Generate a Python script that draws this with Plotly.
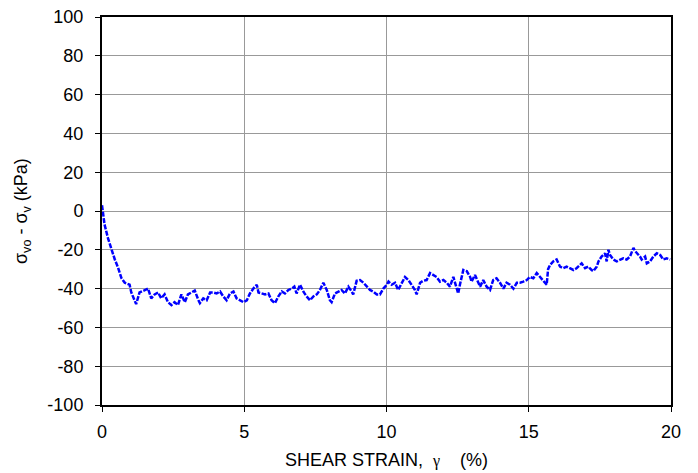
import plotly.graph_objects as go

strain = [0.00, 0.09, 0.21, 0.33, 0.45, 0.56, 0.68, 0.80, 0.97, 1.03, 1.15, 1.20, 1.32, 1.50, 1.62, 1.73,
          1.85, 1.97, 2.08, 2.20, 2.32, 2.44, 2.55, 2.67, 2.79, 2.91, 3.02, 3.14, 3.26, 3.39, 3.44, 3.56,
          3.68, 3.80, 3.91, 4.03, 4.15, 4.26, 4.38, 4.50, 4.62, 4.73, 4.85, 4.97, 5.09, 5.20, 5.32, 5.44,
          5.50, 5.61, 5.73, 5.85, 5.96, 6.08, 6.20, 6.32, 6.43, 6.55, 6.67, 6.76, 6.84, 6.96, 7.08, 7.19,
          7.31, 7.43, 7.55, 7.66, 7.78, 7.90, 8.01, 8.07, 8.19, 8.31, 8.42, 8.54, 8.66, 8.78, 8.83, 8.95,
          9.07, 9.19, 9.30, 9.42, 9.54, 9.66, 9.77, 9.89, 10.01, 10.07, 10.18, 10.30, 10.41, 10.53, 10.65,
          10.77, 10.89, 11.00, 11.06, 11.18, 11.29, 11.41, 11.53, 11.65, 11.76, 11.88, 12.00, 12.12, 12.23,
          12.35, 12.47, 12.52, 12.58, 12.70, 12.82, 12.94, 12.99, 13.11, 13.23, 13.29, 13.40, 13.52, 13.64,
          13.75, 13.87, 13.99, 14.11, 14.22, 14.34, 14.46, 14.58, 14.69, 14.81, 14.93, 15.04, 15.16, 15.28,
          15.40, 15.51, 15.63, 15.68, 15.75, 15.86, 15.98, 16.10, 16.21, 16.33, 16.45, 16.57, 16.68, 16.77,
          16.86, 16.98, 17.09, 17.21, 17.27, 17.39, 17.45, 17.56, 17.68, 17.74, 17.80, 17.85, 17.97, 18.09,
          18.21, 18.32, 18.44, 18.56, 18.68, 18.73, 18.91, 18.97, 19.09, 19.15, 19.26, 19.38, 19.50, 19.62,
          19.73, 19.85, 19.97]

stress_change = [3, -7, -14, -20, -25, -29, -34.5, -37, -38, -42, -47, -48, -42, -41, -40, -45,
                 -43, -42, -45, -43, -47, -48.5, -47, -48.5, -43, -47, -43, -42, -41, -46, -47.5, -45,
                 -46, -42, -42, -42.5, -41.5, -44, -46, -42.5, -41.5, -45, -46, -47, -46, -42.5, -40, -38,
                 -42, -42.5, -43, -42.5, -46, -47.5, -44, -41.5, -42.5, -40.7, -40, -39, -42.5, -38, -41.6, -44,
                 -46, -44, -43, -40.7, -37, -40.7, -46, -47, -42.5, -41.6, -40.7, -42.5, -39, -41.6, -43, -36,
                 -35.6, -37, -39, -40.7, -41.6, -43, -43, -40, -38, -36.4, -38, -37, -40.7, -37, -34,
                 -35.6, -38, -40.7, -43, -37, -36, -35.6, -32, -33, -34, -36.4, -35.6, -37, -39,
                 -34, -40.7, -42.5, -38, -30.4, -31, -34, -36.4, -33, -37, -39, -35.6, -39, -40.7,
                 -35.6, -34.7, -37, -40, -37, -38, -40, -37, -37, -36.4, -35.6, -34, -34.7, -32,
                 -34, -35.6, -38, -30, -27.8, -26, -25, -28.7, -29.5, -28.7, -29.5, -30.4, -29.5, -28,
                 -27, -29.5, -28.7, -30.4, -31, -28.7, -26, -23.5, -21.8, -26, -20, -22.5, -25, -26,
                 -25, -24.4, -25, -23.5, -19, -20.5, -23.5, -25, -23.5, -27, -26, -23.5, -21.8, -22.7,
                 -25, -24.4, -25]

x_ticks = [0, 5, 10, 15, 20]
y_ticks = [-100, -80, -60, -40, -20, 0, 20, 40, 60, 80, 100]
y_tick_labels = ["-100", "-80", "-60", "-40", "-20", "0", "20", "40", "60", "80", "100"]

fig = go.Figure()
fig.add_trace(go.Scatter(
    x=strain, y=stress_change, mode="lines",
    line=dict(color="#0000ff", width=2.5, dash="5px,1.5px"),
    showlegend=False, hoverinfo="skip",
))

font_family = "Liberation Sans, Arial, sans-serif"

# the page body adds an 8px offset; margins compensate for it
fig.update_layout(
    width=698, height=473,
    margin=dict(l=94, r=35, t=9, b=76),
    paper_bgcolor="white", plot_bgcolor="white",
    font=dict(family=font_family, size=18, color="black"),
)

fig.update_xaxes(
    range=[0, 20], tickvals=x_ticks,
    showgrid=True, gridcolor="#999999", gridwidth=1,
    showline=True, linecolor="black", linewidth=2, mirror=True,
    ticks="outside", ticklen=5, tickcolor="black",
    zeroline=False, automargin=False,
    tickfont=dict(size=18), ticklabelstandoff=4, ticklabeloverflow="allow",
)
fig.update_yaxes(
    range=[-100, 100], tickvals=y_ticks, ticktext=y_tick_labels,
    showgrid=True, gridcolor="#999999", gridwidth=1,
    showline=True, linecolor="black", linewidth=2, mirror=True,
    ticks="outside", ticklen=5, tickcolor="black",
    zeroline=False, automargin=False,
    tickfont=dict(size=18), ticklabelstandoff=8, ticklabeloverflow="allow",
)

fig.add_annotation(
    text="SHEAR STRAIN,  <span style='font-family:Liberation Serif, Times New Roman, serif;font-size:16px'>γ</span>    (%)",
    xref="paper", yref="paper", x=0.5, y=0, yshift=-55, xanchor="center", yanchor="middle",
    showarrow=False, font=dict(size=18),
)
fig.add_annotation(
    text="σ<sub>vo</sub> - σ<sub>v</sub> (kPa)",
    xref="paper", yref="paper", x=0, y=0.5, xshift=-80, xanchor="center", yanchor="middle",
    textangle=-90, showarrow=False, font=dict(size=18),
)

fig.write_html("out.html")
